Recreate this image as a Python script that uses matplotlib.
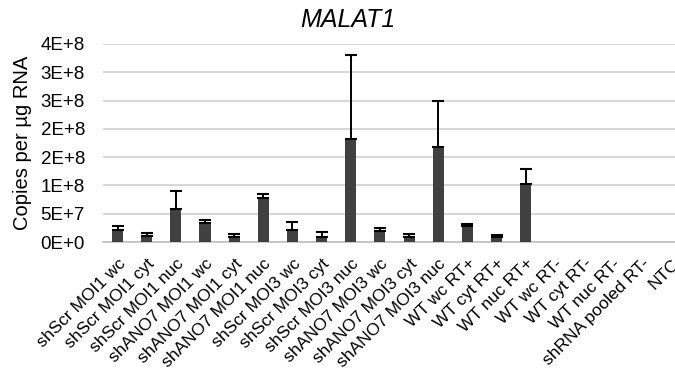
import matplotlib.pyplot as plt
from matplotlib.ticker import FixedLocator, FixedFormatter

plt.rcParams["font.family"] = ["Liberation Sans", "DejaVu Sans"]

samples = [
    "shScr MOI1 wc", "shScr MOI1 cyt", "shScr MOI1 nuc",
    "shANO7 MOI1 wc", "shANO7 MOI1 cyt", "shANO7 MOI1 nuc",
    "shScr MOI3 wc", "shScr MOI3 cyt", "shScr MOI3 nuc",
    "shANO7 MOI3 wc", "shANO7 MOI3 cyt", "shANO7 MOI3 nuc",
    "WT wc RT+", "WT cyt RT+", "WT nuc RT+",
    "WT wc RT-", "WT cyt RT-", "WT nuc RT-",
    "shRNA pooled RT-", "NTC",
]
copies = [
    2.2e7, 1.0e7, 5.9e7,
    3.4e7, 0.85e7, 7.75e7,
    2.2e7, 0.9e7, 1.815e8,
    1.95e7, 0.9e7, 1.685e8,
    2.85e7, 0.9e7, 1.02e8,
    0, 0, 0,
    0, 0,
]
errors = [
    0.7e7, 0.65e7, 3.1e7,
    0.55e7, 0.55e7, 0.65e7,
    1.3e7, 0.85e7, 1.495e8,
    0.6e7, 0.45e7, 0.815e8,
    0.35e7, 0.3e7, 0.275e8,
    0, 0, 0,
    0, 0,
]
y_ticks = [0, 5e7, 1e8, 1.5e8, 2e8, 2.5e8, 3e8, 3.5e8]
y_tick_labels = ["0E+0", "5E+7", "1E+8", "2E+8", "2E+8", "3E+8", "3E+8", "4E+8"]

fig = plt.figure(figsize=(6.75, 3.83), dpi=100)
# axes runs a little past the right edge of the figure
ax = fig.add_axes([103 / 675, 1 - 242 / 383, 583 / 675, 198 / 383])

x = list(range(len(samples)))
ax.bar(x, copies, width=0.38, color="#404040", zorder=3)

# upper error bars only, and only where there is a measurement
err_x = [i for i in x if errors[i] > 0]
err_y = [copies[i] for i in err_x]
err_up = [errors[i] for i in err_x]
ax.errorbar(err_x, err_y, yerr=[[0] * len(err_x), err_up], fmt="none",
            ecolor="black", elinewidth=1.4, capsize=4.3, capthick=1.5,
            zorder=4)

ax.set_xlim(-0.5, len(samples) - 0.5)
ax.set_ylim(0, 3.5e8)
ax.yaxis.set_major_locator(FixedLocator(y_ticks))
ax.yaxis.set_major_formatter(FixedFormatter(y_tick_labels))
ax.grid(axis="y", color="#d0d0d0", linewidth=1.2, zorder=0)

ax.set_xticks(x)
ax.set_xticklabels(samples, rotation=45, ha="right", rotation_mode="anchor",
                   fontsize=12.5)
ax.tick_params(axis="x", length=0, pad=10)
ax.tick_params(axis="y", length=0, pad=13, labelsize=13.5)

for side in ["top", "right", "left"]:
    ax.spines[side].set_visible(False)
ax.spines["bottom"].set_color("#c0c0c0")
ax.spines["bottom"].set_linewidth(1.2)

ax.set_ylabel("Copies per µg RNA", fontsize=14.5, labelpad=6)
fig.text(348 / 675, 1 - 20 / 383, "MALAT1", fontsize=18, style="italic",
         ha="center", va="center")

fig.savefig("out.png", dpi=100, facecolor="white")
